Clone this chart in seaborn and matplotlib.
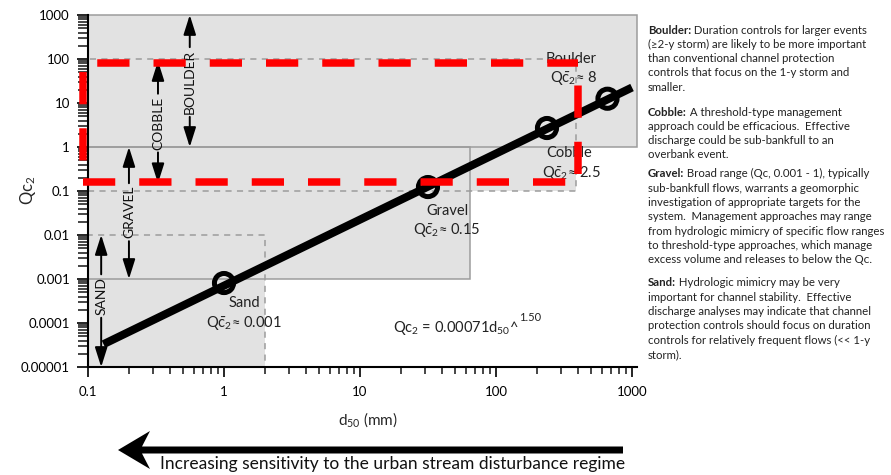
import numpy as np
import pandas as pd
import seaborn as sns
import matplotlib
matplotlib.use("Agg")
import matplotlib.pyplot as plt
from matplotlib.patches import Rectangle, FancyArrow
from matplotlib.ticker import LogLocator, FixedLocator, FixedFormatter, NullFormatter

# ---------------- data ----------------
line_d50 = [0.13, 1000]
line_qc2 = [3.3e-5, 22.5]

point_names = ["Sand", "Gravel", "Cobble", "Boulder"]
point_d50 = [1.0, 31.6, 237, 660]
point_qc2 = [0.00081, 0.123, 2.7, 12.5]
point_values = ["0.001", "0.15", "2.5", "8"]

region_names = ["Boulder", "Cobble", "Gravel", "Sand"]
region_d50_max = [1088, 390, 64, 2]
region_qc2_min = [1, 0.1, 0.001, 1e-5]
region_qc2_max = [1000, 100, 1, 0.01]
region_edge = ["solid", "dashed", "solid", "dashed"]

range_labels = ["BOULDER", "COBBLE", "GRAVEL", "SAND"]
range_d50 = [0.56, 0.327, 0.2, 0.125]
range_lo = [1, 0.15, 0.001, 1e-5]
range_hi = [1000, 90, 1, 0.01]
range_mid = [30, 3.5, 0.033, 4.1e-4]

highlight_d50 = [0.092, 401]
highlight_qc2 = [0.163, 82]

x_ticks = [0.1, 1, 10, 100, 1000]
x_tick_labels = ["0.1", "1", "10", "100", "1000"]
y_ticks = [1e-5, 1e-4, 1e-3, 1e-2, 1e-1, 1, 10, 100, 1000]
y_tick_labels = ["0.00001", "0.0001", "0.001", "0.01", "0.1", "1", "10", "100", "1000"]

equation_text = "Qc$_2$ = 0.00071d$_{50}$^"
equation_exp = "1.50"
x_label = "d$_{50}$ (mm)"
y_label = "Qc$_2$"
bottom_text = "Increasing sensitivity to the urban stream disturbance regime"

notes = [
    ("Boulder:", [" Duration controls for larger events",
                  "(\u22652-y storm) are likely to be more important",
                  "than conventional channel protection",
                  "controls that focus on the 1-y storm and",
                  "smaller."]),
    ("Cobble:", [" A threshold-type management",
                 "approach could be efficacious.  Effective",
                 "discharge could be sub-bankfull to an",
                 "overbank event."]),
    ("Gravel:", [" Broad range (Qc, 0.001 - 1), typically",
                 "sub-bankfull flows, warrants a geomorphic",
                 "investigation of appropriate targets for the",
                 "system.  Management approaches may range",
                 "from hydrologic mimicry of specific flow ranges",
                 "to threshold-type approaches, which manage",
                 "excess volume and releases to below the Q\u1d04."]),
    ("Sand:", [" Hydrologic mimicry may be very",
               "important for channel stability.  Effective",
               "discharge analyses may indicate that channel",
               "protection controls should focus on duration",
               "controls for relatively frequent flows (<< 1-y",
               "storm)."]),
]

# ---------------- style ----------------
sns.set_style("ticks")
FONT = ["Lato", "DejaVu Sans"]
plt.rcParams["font.family"] = FONT
plt.rcParams["mathtext.fontset"] = "custom"
plt.rcParams["mathtext.rm"] = "Lato"
plt.rcParams["mathtext.it"] = "Lato:italic"
plt.rcParams["mathtext.bf"] = "Lato:bold"

W, H = 891, 475
fig = plt.figure(figsize=(W / 100, H / 100), dpi=100)
fig.patch.set_facecolor("white")


def fx(px):
    return px / W


def fy(py):
    return 1 - py / H


ax_left, ax_right, ax_top, ax_bottom = 88, 637, 15, 367
ax = fig.add_axes([fx(ax_left), fy(ax_bottom), (ax_right - ax_left) / W, (ax_bottom - ax_top) / H])
ax.set_xscale("log")
ax.set_yscale("log")
ax.set_xlim(0.1, 1088)
ax.set_ylim(1e-5, 1000)
ax.set_facecolor("white")

GREY = "#e2e2e2"
EDGE = "#9c9c9c"
# region fills
for xm, y0, y1 in zip(region_d50_max, region_qc2_min, region_qc2_max):
    ax.add_patch(Rectangle((0.1, y0), xm - 0.1, y1 - y0, facecolor=GREY, edgecolor="none", zorder=0.5))
# region edges
for xm, y0, y1, st in zip(region_d50_max, region_qc2_min, region_qc2_max, region_edge):
    ls = "-" if st == "solid" else (0, (4, 3.5))
    ax.add_patch(Rectangle((0.1, y0), xm - 0.1, y1 - y0, facecolor="none", edgecolor=EDGE,
                           lw=1.1, linestyle=ls, zorder=0.8, clip_on=False))

# main power-law line
df_line = pd.DataFrame({"d50": line_d50, "qc2": line_qc2})
sns.lineplot(data=df_line, x="d50", y="qc2", ax=ax, color="black", lw=5.8, zorder=4,
             solid_capstyle="butt")

# circles
df_pts = pd.DataFrame({"d50": point_d50, "qc2": point_qc2, "name": point_names})
sns.scatterplot(data=df_pts, x="d50", y="qc2", ax=ax, marker="o", s=190,
                facecolor="none", edgecolor="black", linewidth=3.6, zorder=5)

# point labels
name_off = {"Sand": (20, -20), "Gravel": (19, -24), "Cobble": (22, -25), "Boulder": (-36, 40)}
val_off = {"Sand": (20, -40), "Gravel": (19, -43), "Cobble": (24, -45), "Boulder": (-34, 21)}
for n, d, q, v in zip(point_names, point_d50, point_qc2, point_values):
    ax.annotate(n, xy=(d, q), xytext=name_off[n], textcoords="offset pixels",
                ha="center", va="center", fontsize=10.5, color="#222222", zorder=3)
    ax.annotate("Q$\\bar{\\mathrm{c}}_2$\u2248 " + v, xy=(d, q), xytext=val_off[n],
                textcoords="offset pixels", ha="center", va="center", fontsize=10.5,
                color="#222222", zorder=3)

# range labels with arrows
arrow_style = "-|>,head_length=1.2,head_width=0.38"
for lab, x, lo, hi, mid in zip(range_labels, range_d50, range_lo, range_hi, range_mid):
    t = ax.text(x, mid, lab, rotation=90, ha="center", va="center", fontsize=10,
                color="#111111", zorder=3)
    for end, frac in ((hi, 1.0), (lo, 0.0)):
        ax.annotate("", xy=(x, end), xycoords="data", xytext=(0.5, frac), textcoords=t,
                    arrowprops=dict(arrowstyle=arrow_style, color="black", lw=1.4,
                                    mutation_scale=10, shrinkA=2, shrinkB=0),
                    zorder=3)

# equation
eq = ax.text(0.556, 0.111, equation_text, transform=ax.transAxes, ha="left", va="center",
             fontsize=10.5, color="#222222")
ax.annotate(equation_exp, xy=(1, 0.75), xycoords=eq, ha="left", va="bottom",
            fontsize=8, color="#222222")

# red highlight dashed box (drawn side by side to control dash phase)
RED = "#ff0000"
rlw = 5.4
dash = (4.3, 3.2)
x0, x1 = highlight_d50
y0, y1 = highlight_qc2
ax.plot([x0, x1], [y1, y1], color=RED, lw=rlw, ls=(5.6, dash), clip_on=False, zorder=8,
        dash_capstyle="butt")
ax.plot([x0, x1 * 0.97], [y0, y0], color=RED, lw=rlw, ls=(0, dash), clip_on=False, zorder=8,
        dash_capstyle="butt")
ax.plot([x0, x0], [y1, y0], color=RED, lw=rlw, ls=(6.3, dash), clip_on=False, zorder=8,
        dash_capstyle="butt")
ax.plot([x1, x1], [y1, y0], color=RED, lw=rlw, ls=(4.5, dash), clip_on=False, zorder=8,
        dash_capstyle="butt")

# axes styling
for s in ["top", "right"]:
    ax.spines[s].set_visible(False)
for s in ["left", "bottom"]:
    ax.spines[s].set_linewidth(1.5)
    ax.spines[s].set_color("black")
    ax.spines[s].set_zorder(7)

ax.xaxis.set_major_locator(FixedLocator(x_ticks))
ax.xaxis.set_major_formatter(FixedFormatter(x_tick_labels))
ax.xaxis.set_minor_locator(LogLocator(base=10, subs=np.arange(2, 10), numticks=20))
ax.xaxis.set_minor_formatter(NullFormatter())
ax.yaxis.set_major_locator(FixedLocator(y_ticks))
ax.yaxis.set_major_formatter(FixedFormatter(y_tick_labels))
ax.yaxis.set_minor_locator(LogLocator(base=10, subs=np.arange(2, 10), numticks=20))
ax.yaxis.set_minor_formatter(NullFormatter())
ax.tick_params(axis="x", which="major", length=7, width=1.2, pad=7, labelsize=9.5, colors="black")
ax.tick_params(axis="x", which="minor", length=5, width=1.2)
ax.tick_params(axis="y", which="major", length=8, width=1.2, pad=5, labelsize=9.5, colors="black")
ax.tick_params(axis="y", which="minor", length=7, width=1.2)
ax.set_xlabel("")
ax.set_ylabel("")

fig.text(fx(28), fy(190), y_label, rotation=90, ha="center", va="center", fontsize=12)
fig.text(fx(368), fy(420), x_label, ha="center", va="center", fontsize=11)

# right-hand notes
para_start = [30, 112, 174, 283]
line_gap = 14.3
note_x = 648
NFS = 8.2
for (head, lines), y in zip(notes, para_start):
    b = fig.text(fx(note_x), fy(y), head, ha="left", va="center", fontsize=NFS,
                 fontweight="bold", color="#222222")
    ax.annotate(lines[0], xy=(1, 0), xycoords=b, ha="left", va="bottom", fontsize=NFS,
                color="#222222", annotation_clip=False)
    for i, ln in enumerate(lines[1:], start=1):
        fig.text(fx(note_x), fy(y + i * line_gap), ln, ha="left", va="center",
                 fontsize=NFS, color="#222222")

# bottom arrow and caption
arr = FancyArrow(fx(623), fy(450), -(623 - 118) / W, 0, width=7 / H, head_width=38 / H,
                 head_length=32 / W, overhang=0.25, length_includes_head=True,
                 transform=fig.transFigure, color="black", lw=0)
fig.patches.append(arr)
fig.text(fx(160), fy(456), bottom_text, ha="left", va="top", fontsize=12.5, color="#111111")

fig.savefig("out.png", dpi=100, facecolor="white")
